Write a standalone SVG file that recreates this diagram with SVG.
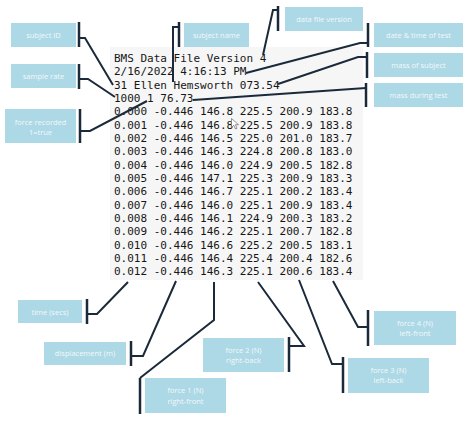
<svg xmlns="http://www.w3.org/2000/svg" width="474" height="423" viewBox="0 0 474 423">
<style>
.box{fill:#add8e6}
.lbl{font-family:"Open Sans","Liberation Sans",sans-serif;font-size:7.5px;fill:#f2f9fb;text-anchor:middle}
.mono{font-family:"DejaVu Sans Mono","Liberation Mono",monospace;font-size:11px;fill:#161616}
.con{fill:none;stroke:#1b2a3a;stroke-width:2;stroke-linejoin:miter}
.brk{fill:none;stroke:#1b2a3a;stroke-width:2.5}
</style>
<rect width="474" height="423" fill="#ffffff"/>
<g id="datafile">
<rect x="110" y="47" width="253" height="233" fill="#f6f6f6"/>
<text class="mono" x="114" y="62">BMS Data File Version 4</text>
<text class="mono" x="114" y="75.3">2/16/2022 4:16:13 PM</text>
<text class="mono" x="114" y="88.7">31 Ellen Hemsworth 073.54</text>
<text class="mono" x="114" y="102">1000 1 76.73</text>
<text class="mono" x="114" y="115.3">0.000 -0.446 146.8 225.5 200.9 183.8</text>
<text class="mono" x="114" y="128.7">0.001 -0.446 146.8 225.5 200.9 183.8</text>
<text class="mono" x="114" y="142">0.002 -0.446 146.5 225.0 201.0 183.7</text>
<text class="mono" x="114" y="155.3">0.003 -0.446 146.3 224.8 200.8 183.0</text>
<text class="mono" x="114" y="168.7">0.004 -0.446 146.0 224.9 200.5 182.8</text>
<text class="mono" x="114" y="182">0.005 -0.446 147.1 225.3 200.9 183.3</text>
<text class="mono" x="114" y="195.3">0.006 -0.446 146.7 225.1 200.2 183.4</text>
<text class="mono" x="114" y="208.7">0.007 -0.446 146.0 225.1 200.9 183.4</text>
<text class="mono" x="114" y="222">0.008 -0.446 146.1 224.9 200.3 183.2</text>
<text class="mono" x="114" y="235.3">0.009 -0.446 146.2 225.1 200.7 182.8</text>
<text class="mono" x="114" y="248.7">0.010 -0.446 146.6 225.2 200.5 183.1</text>
<text class="mono" x="114" y="262">0.011 -0.446 146.4 225.4 200.4 182.6</text>
<text class="mono" x="114" y="275.3">0.012 -0.446 146.3 225.1 200.6 183.4</text>
<path d="M231.5,118.5 L231.5,127.5 L233.8,125.3 L235.5,129 L237,128.3 L235.4,124.7 L238.5,124.7 Z" fill="#ffffff" stroke="#666666" stroke-width="0.7"/>
</g>
<g id="connectors">
<path class="brk" d="M79,22 V47"/><path class="con" d="M79,38 H85 L113,85"/>
<path class="brk" d="M79,64 V89"/><path class="con" d="M79,79 H88 L115,97"/>
<path class="brk" d="M80,109 V143"/><path class="con" d="M80,131 H90 L147,101"/>
<path class="brk" d="M179,22 V47"/><path class="con" d="M179,27 H173 V82"/>
<path class="brk" d="M278,6 V31"/><path class="con" d="M278,10 H273 L263,55"/>
<path class="brk" d="M368,23 V47"/><path class="con" d="M368,43 H360 L246,73"/>
<path class="brk" d="M367,52 V78"/><path class="con" d="M367,57 H358 L278,84"/>
<path class="brk" d="M366,83 V107"/><path class="con" d="M366,88 L193,100"/>
<path class="brk" d="M87,299 V324"/><path class="con" d="M87,314 H97 L128,282"/>
<path class="brk" d="M131,341 V366"/><path class="con" d="M131,356 H143 L176,281"/>
<path class="brk" d="M140,378 V414"/><path class="con" d="M214,282 V320 L140,378"/>
<path class="brk" d="M289,337 V372"/><path class="con" d="M289,346 H304 L258,282"/>
<path class="brk" d="M343,357 V393"/><path class="con" d="M343,364 H332 L299,280"/>
<path class="brk" d="M368,310 V346"/><path class="con" d="M368,327 H358 L333,281"/>
</g>
<g id="subject-id"><rect class="box" x="11" y="23" width="65" height="24"/><text class="lbl" x="43.5" y="37.5">subject ID</text></g>
<g id="sample-rate"><rect class="box" x="11" y="64" width="65" height="24"/><text class="lbl" x="43.5" y="78.5">sample rate</text></g>
<g id="force-recorded"><rect class="box" x="5" y="109" width="71" height="34"/><text class="lbl" x="40.5" y="124.5">force recorded</text><text class="lbl" x="40.5" y="134.5">1=true</text></g>
<g id="subject-name"><rect class="box" x="184" y="23" width="65" height="24"/><text class="lbl" x="216.5" y="37.5">subject name</text></g>
<g id="data-file-version"><rect class="box" x="285" y="7" width="78" height="24"/><text class="lbl" x="324" y="21.5">data file version</text></g>
<g id="date-time"><rect class="box" x="374" y="23" width="89" height="24"/><text class="lbl" x="418.5" y="37.5">date &amp; time of test</text></g>
<g id="mass-of-subject"><rect class="box" x="374" y="53" width="89" height="24"/><text class="lbl" x="418.5" y="67.5">mass of subject</text></g>
<g id="mass-during-test"><rect class="box" x="374" y="83" width="89" height="24"/><text class="lbl" x="418.5" y="97.5">mass during test</text></g>
<g id="time"><rect class="box" x="18" y="300" width="64" height="23"/><text class="lbl" x="50" y="314.5">time (secs)</text></g>
<g id="displacement"><rect class="box" x="44" y="342" width="82" height="23"/><text class="lbl" x="85" y="356">displacement (m)</text></g>
<g id="force-1"><rect class="box" x="145" y="378" width="81" height="35"/><text class="lbl" x="185.5" y="393">force 1 (N)</text><text class="lbl" x="185.5" y="403.5">right-front</text></g>
<g id="force-2"><rect class="box" x="203" y="338" width="81" height="34"/><text class="lbl" x="243.5" y="352.5">force 2 (N)</text><text class="lbl" x="243.5" y="362.5">right-back</text></g>
<g id="force-3"><rect class="box" x="348" y="358" width="81" height="35"/><text class="lbl" x="388.5" y="372.5">force 3 (N)</text><text class="lbl" x="388.5" y="383">left-back</text></g>
<g id="force-4"><rect class="box" x="374" y="311" width="82" height="34"/><text class="lbl" x="415" y="325.5">force 4 (N)</text><text class="lbl" x="415" y="335.5">left-front</text></g>
</svg>
